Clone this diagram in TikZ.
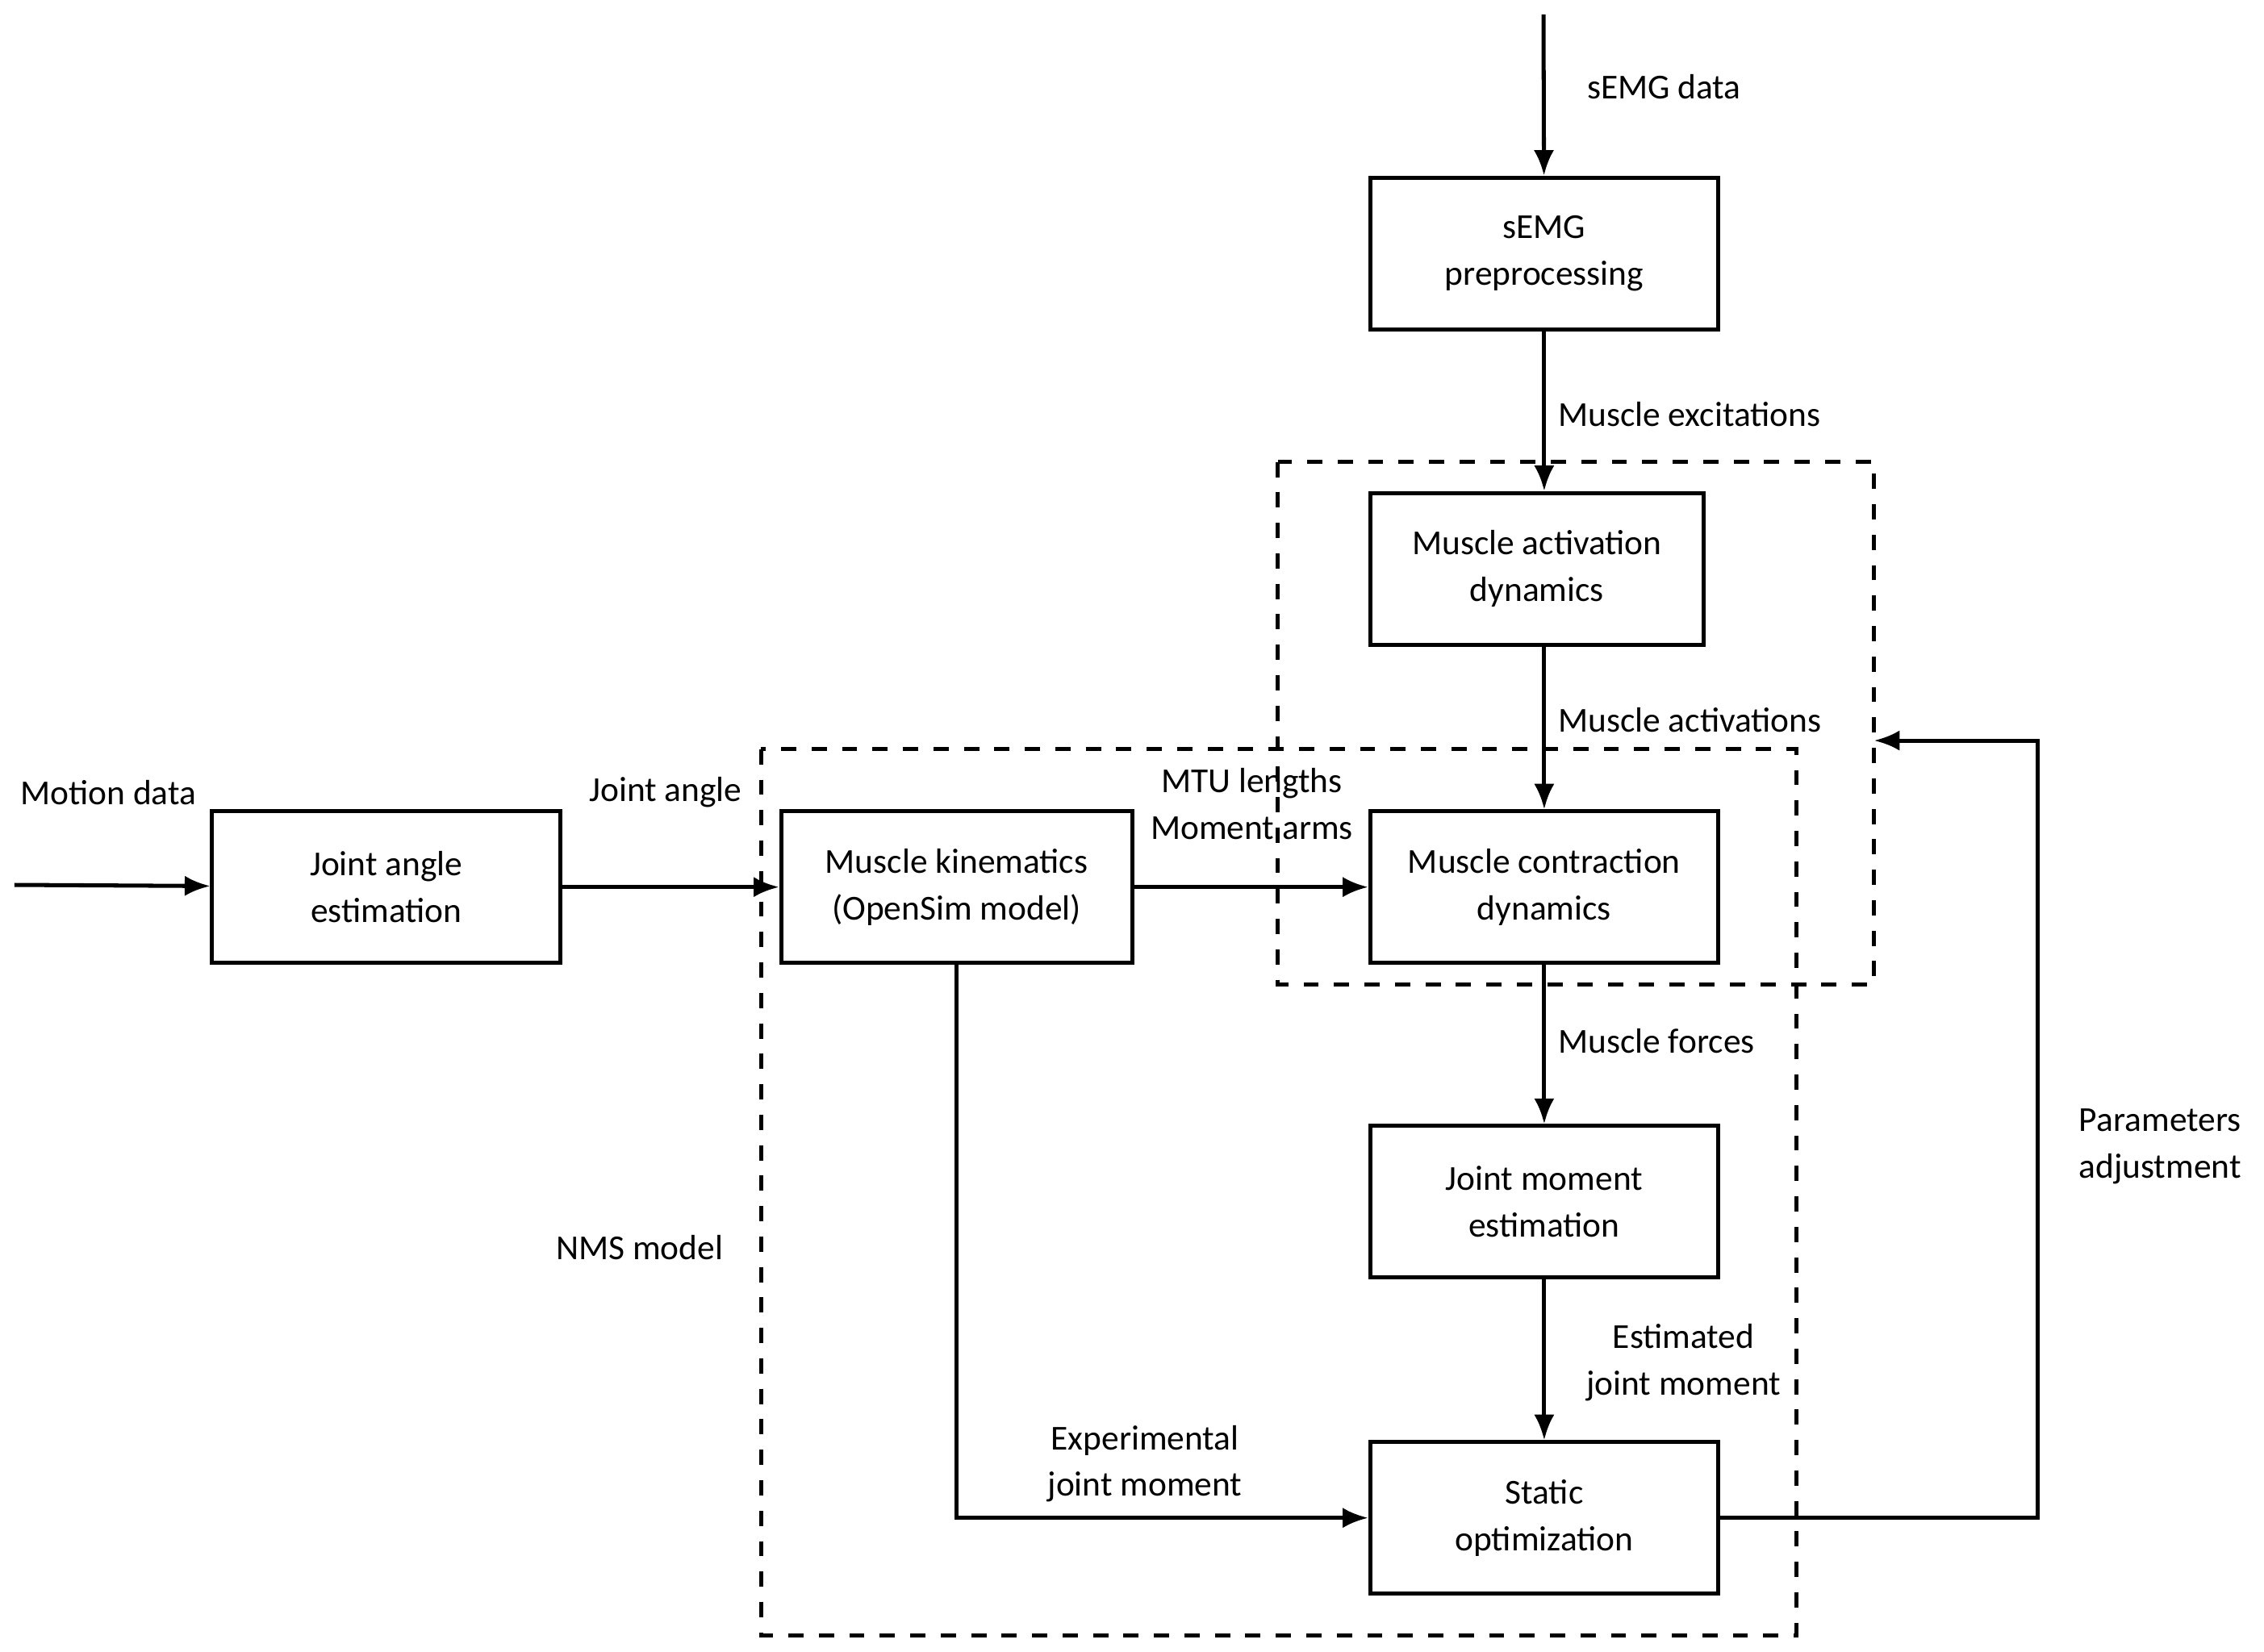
\documentclass[tikz,border=0pt]{standalone}
\usepackage{fontspec}
\setmainfont{Carlito}
\usetikzlibrary{positioning,arrows.meta}
\begin{document}
\begin{tikzpicture}[
    x=0.01cm, y=-0.01cm,
    > = {Latex[length=5pt,width=4pt]},
    font=\fontsize{6.9}{9.2}\selectfont,
    block/.style={draw, thick, align=center, minimum width=2.41cm, minimum height=1.05cm, inner sep=1pt},
    region/.style={draw, dashed, thick},
    lbl/.style={align=center, inner sep=1pt}
]
    \useasboundingbox (0,0) rectangle (1568,1144);
    % boxes
    \node[block] (pre) at (1069.5,175.5) {sEMG\\preprocessing};
    \node[block, minimum width=2.31cm] (act) at (1064.5,394) {Muscle activation\\dynamics};
    \node[block] (con) at (1069.5,614.5) {Muscle contraction\\dynamics};
    \node[block] (mom) at (1069.5,832.5) {Joint moment\\estimation};
    \node[block] (opt) at (1069.5,1051.5) {Static\\optimization};
    \node[block] (ang) at (267.5,614.5) {Joint angle\\estimation};
    \node[block, minimum width=2.43cm] (kin) at (662.5,614.5) {Muscle kinematics\\(OpenSim model)};
    % dashed regions
    \draw[region] (885,320) rectangle (1298,682);
    \draw[region] (527,519) rectangle (1244,1133);
    \coordinate (top) at (1069,10);
    \coordinate (start) at (10,613);
    \coordinate (fb) at (1298,513);
    % connectors
    \draw[->, thick] (top) -- (pre);
    \draw[->, thick] (pre) -- (act.north -| pre);
    \draw[->, thick] (act.south -| pre) -- (con);
    \draw[->, thick] (con) -- (mom);
    \draw[->, thick] (mom) -- (opt);
    \draw[->, thick] (start) -- (ang);
    \draw[->, thick] (ang) -- (kin);
    \draw[->, thick] (kin) -- (con);
    \draw[->, thick] (kin.south) |- (opt.west);
    \draw[->, thick] (opt.east) -- (1411,1051.5) |- (fb);
    % labels
    \node[lbl, anchor=west] at (1095,60) {sEMG data};
    \node[lbl, anchor=west] at (1075,287) {Muscle excitations};
    \node[lbl, anchor=west] at (1075,499) {Muscle activations};
    \node[lbl, anchor=west] at (1075,721) {Muscle forces};
    \node[lbl] at (1166,944) {Estimated\\joint moment};
    \node[lbl] at (793,1014) {Experimental\\joint moment};
    \node[lbl] at (867,557) {MTU lengths\\Moment arms};
    \node[lbl, anchor=west] at (10,549) {Motion data};
    \node[lbl, anchor=west] at (404,549) {Joint angle};
    \node[lbl, anchor=west] at (381,864) {NMS model};
    \node[lbl] at (1496,794) {Parameters\\adjustment};
\end{tikzpicture}
\end{document}
